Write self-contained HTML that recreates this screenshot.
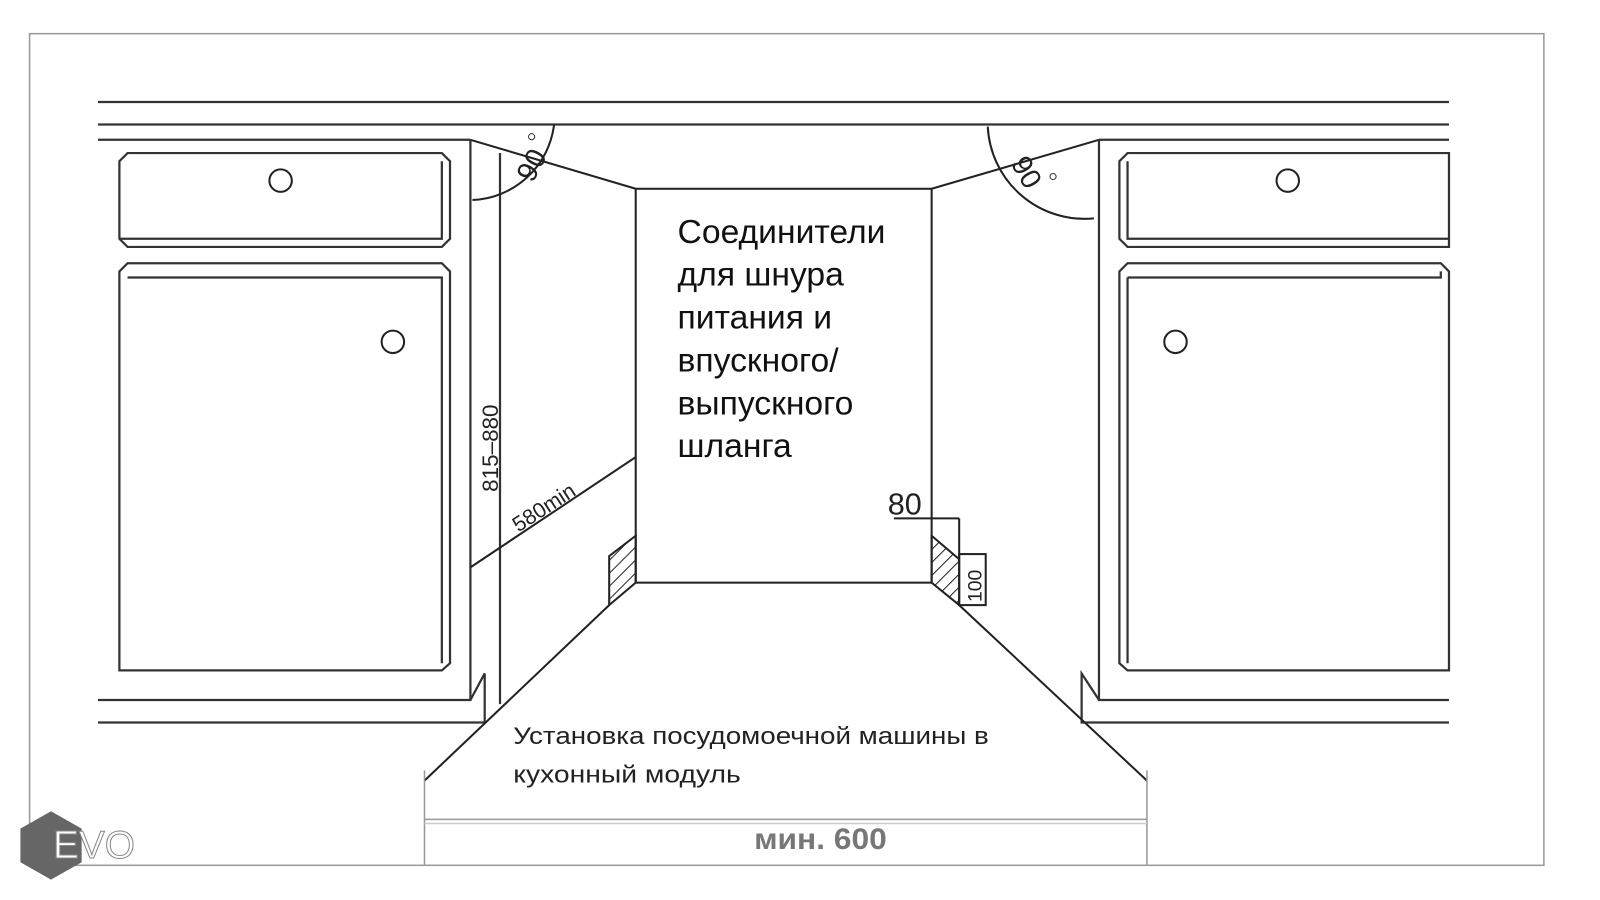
<!DOCTYPE html>
<html><head><meta charset="utf-8"><style>
html,body{margin:0;padding:0;background:#fff;}
svg{display:block;}
text{font-family:"Liberation Sans",sans-serif;}
</style></head><body>
<svg width="1600" height="900" viewBox="0 0 1568 882" preserveAspectRatio="none" xmlns="http://www.w3.org/2000/svg">
<defs>
<pattern id="h" patternUnits="userSpaceOnUse" width="9" height="9" patternTransform="rotate(45)">
<line x1="0" y1="0" x2="0" y2="9" stroke="#222" stroke-width="2"/>
</pattern>
</defs>
<rect x="29" y="33" width="1484" height="815" fill="none" stroke="#999" stroke-width="1.5"/>
<g stroke="#333" stroke-width="2.2" fill="none">
<line x1="96" y1="100" x2="1420" y2="100"/>
<line x1="96" y1="122" x2="1420" y2="122"/>
<line x1="96" y1="137" x2="461" y2="137"/>
<polyline points="461,137 461,686 96,686"/>
<polyline points="461,686 475,660 475,708 96,708"/>
<line x1="490" y1="150" x2="490" y2="690"/>
<polygon points="125,150 433,150 441,158 441,234 433,242 125,242 117,234 117,158"/>
<polyline points="117,234 433,234 433,158"/>
<polygon points="125,258 433,258 441,266 441,650 433,657 117,657 117,266"/>
<polyline points="125,272 433,272 433,650"/>
<line x1="1077" y1="137" x2="1420" y2="137"/>
<polyline points="1077,137 1077,686 1420,686"/>
<polyline points="1077,686 1060,660 1060,708 1420,708"/>
<polygon points="1105,150 1420,150 1420,242 1105,242 1097,234 1097,158"/>
<polyline points="1105,158 1105,234 1420,234"/>
<polygon points="1105,258 1412,258 1420,266 1420,657 1105,657 1097,650 1097,266"/>
<polyline points="1105,272 1412,272 1412,266"/>
<line x1="1105" y1="272" x2="1105" y2="650"/>
</g>
<g stroke="#222" stroke-width="2" fill="none">
<circle cx="275" cy="177" r="11"/><circle cx="385" cy="335" r="11"/>
<circle cx="1262" cy="177" r="11"/><circle cx="1152" cy="335" r="11"/>
<rect x="623" y="185" width="290" height="386"/>
<line x1="461" y1="137" x2="623" y2="185"/>
<line x1="1077" y1="137" x2="913" y2="185"/>
<path d="M543,122 A84,84 0 0 1 463,196"/>
<path d="M968,124 A95,95 0 0 0 1072,214"/>
<line x1="461" y1="556" x2="623" y2="448"/>
<polygon points="623,525 623,571 597,593 597,545" fill="url(#h)"/>
<polygon points="913,525 940,548 940,593 913,571" fill="url(#h)"/>
<line x1="597" y1="593" x2="416" y2="765"/>
<line x1="940" y1="593" x2="1124" y2="765"/>
<line x1="876" y1="508" x2="940" y2="508"/>
<line x1="940" y1="508" x2="940" y2="548"/>
<rect x="940" y="543" width="26" height="50"/>
</g>
<g stroke="#999" stroke-width="1.5">
<line x1="416" y1="755" x2="416" y2="848"/>
<line x1="1124" y1="755" x2="1124" y2="848"/>
<line x1="416" y1="803" x2="1124" y2="803"/>
<line x1="416" y1="807" x2="1124" y2="807" stroke="#ccc"/>
</g>
<text x="0" y="0" font-size="28" fill="#222" font-family="Liberation Serif" transform="translate(522,180) rotate(-62)">90</text>
<circle cx="521" cy="134" r="3" fill="none" stroke="#333"/>
<text x="0" y="0" font-size="28" fill="#222" font-family="Liberation Serif" transform="translate(990,160) rotate(60)">90</text>
<circle cx="1032" cy="173" r="3" fill="none" stroke="#333"/>
<text x="0" y="0" font-size="22" fill="#222" transform="translate(488,482) rotate(-90)">815–880</text>
<text x="0" y="0" font-size="21" fill="#222" font-family="Liberation Serif" transform="translate(508,522) rotate(-33)">580min</text>
<text x="870" y="504" font-size="30" fill="#222">80</text>
<text x="0" y="0" font-size="19" fill="#222" transform="translate(962,590) rotate(-90)">100</text>
<g font-size="33" fill="#111">
<text x="664" y="238">Соединители</text>
<text x="664" y="280">для шнура</text>
<text x="664" y="322">питания и</text>
<text x="664" y="364">впускного/</text>
<text x="664" y="406">выпускного</text>
<text x="664" y="448">шланга</text>
</g>
<text x="503" y="729" font-size="24" fill="#222" textLength="466" lengthAdjust="spacingAndGlyphs">Установка посудомоечной машины в</text>
<text x="503" y="767" font-size="24" fill="#222" textLength="223" lengthAdjust="spacingAndGlyphs">кухонный модуль</text>
<text x="804" y="832" font-size="29" font-weight="bold" fill="#777" text-anchor="middle" textLength="130" lengthAdjust="spacingAndGlyphs">мин. 600</text>
<polygon points="50,795 80,812 80,845 50,862 20,845 20,812" fill="#666"/>
<text x="52" y="841" font-size="38" fill="#fff" stroke="#888" stroke-width="1">EVO</text>
</svg>
</body></html>
